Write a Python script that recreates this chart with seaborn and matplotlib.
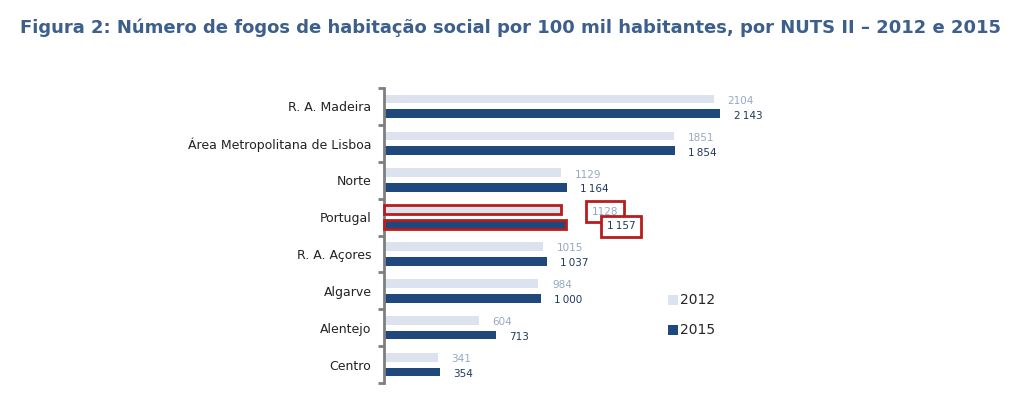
import numpy as np
import pandas as pd
import matplotlib
matplotlib.use("Agg")
import matplotlib.pyplot as plt
import seaborn as sns
from matplotlib.patches import Rectangle

# dados
regioes = ["R. A. Madeira", "Área Metropolitana de Lisboa", "Norte", "Portugal",
           "R. A. Açores", "Algarve", "Alentejo", "Centro"]
v2012 = [2104, 1851, 1129, 1128, 1015, 984, 604, 341]
v2015 = [2143, 1854, 1164, 1157, 1037, 1000, 713, 354]
anos = ["2012", "2015"]

cor_2012 = "#dce3ef"
cor_2015 = "#1f497d"
cor_txt12 = "#95a8c4"
cor_txt15 = "#1f3a5f"
vermelho = "#b81c1c"

df = pd.DataFrame({
    "regiao": regioes * 2,
    "ano": [anos[0]] * len(regioes) + [anos[1]] * len(regioes),
    "valor": v2012 + v2015,
})

sns.set_style("white")
plt.rcParams["font.family"] = ["DejaVu Sans"]

fig = plt.figure(figsize=(10.33, 3.99), dpi=100)
ax = fig.add_axes([384 / 1033, 1 - 383 / 399, 408 / 1033, 295 / 399])

sns.barplot(data=df, y="regiao", x="valor", hue="ano", order=regioes,
            hue_order=anos, palette=[cor_2012, cor_2015], orient="h",
            width=0.8, gap=0.4, saturation=1, linewidth=0, ax=ax, legend=True)

ax.set_xlim(0, 2600)
ax.set_ylim(len(regioes) - 0.5, -0.5)
ax.set_xlabel("")
ax.set_ylabel("")
ax.set_xticks([])
sns.despine(ax=ax, left=False, bottom=True, top=True, right=True)
ax.spines["left"].set_color("#7f7f7f")
ax.spines["left"].set_linewidth(2)
ax.tick_params(axis="y", which="major", left=False, length=0, labelsize=9,
               pad=9, labelcolor="#222222")
ax.set_yticks(np.arange(-0.5, len(regioes), 1), minor=True)
ax.tick_params(axis="y", which="minor", left=True, length=4, width=2,
               color="#7f7f7f", direction="out")

# rótulos de valores
px = 2600 / 408  # unidades por pixel
for i, (a, b) in enumerate(zip(v2012, v2015)):
    off_a = 13.5 if regioes[i] != "Portugal" else 31
    off_b = 13.5 if regioes[i] != "Portugal" else 41
    kw12 = dict(fontsize=7.5, color=cor_txt12, va="center", ha="left")
    kw15 = dict(fontsize=7.5, color=cor_txt15, va="center", ha="left")
    if regioes[i] == "Portugal":
        kw12["bbox"] = dict(boxstyle="square,pad=0.55", fc="white", ec=vermelho, lw=2)
        kw15["bbox"] = dict(boxstyle="square,pad=0.55", fc="white", ec=vermelho, lw=2)
    ax.text(a + off_a * px, i - 0.15, f"{a}", **kw12)
    ax.text(b + off_b * px, i + 0.25, f"{b:,}".replace(",", "\u2009"), **kw15)

# destaque de Portugal
ip = regioes.index("Portugal")
for c in ax.containers:
    p = c.patches[ip]
    ax.add_patch(Rectangle((p.get_x(), p.get_y()), p.get_width(), p.get_height(),
                           fill=False, ec=vermelho, lw=2, clip_on=False, zorder=5))

leg = ax.legend(loc="upper left", bbox_to_anchor=(655 / 1033, 1 - 281 / 399),
                bbox_transform=fig.transFigure, frameon=False, fontsize=10,
                handlelength=0.75, handleheight=0.75, handletextpad=0.15,
                labelspacing=1.15)

fig.text(20 / 1033, 1 - 28 / 399,
         "Figura 2: Número de fogos de habitação social por 100 mil habitantes, por NUTS II – 2012 e 2015",
         fontsize=13, fontweight="bold", color="#3d5f8c", va="center", ha="left")

fig.savefig("out.png", dpi=100)
